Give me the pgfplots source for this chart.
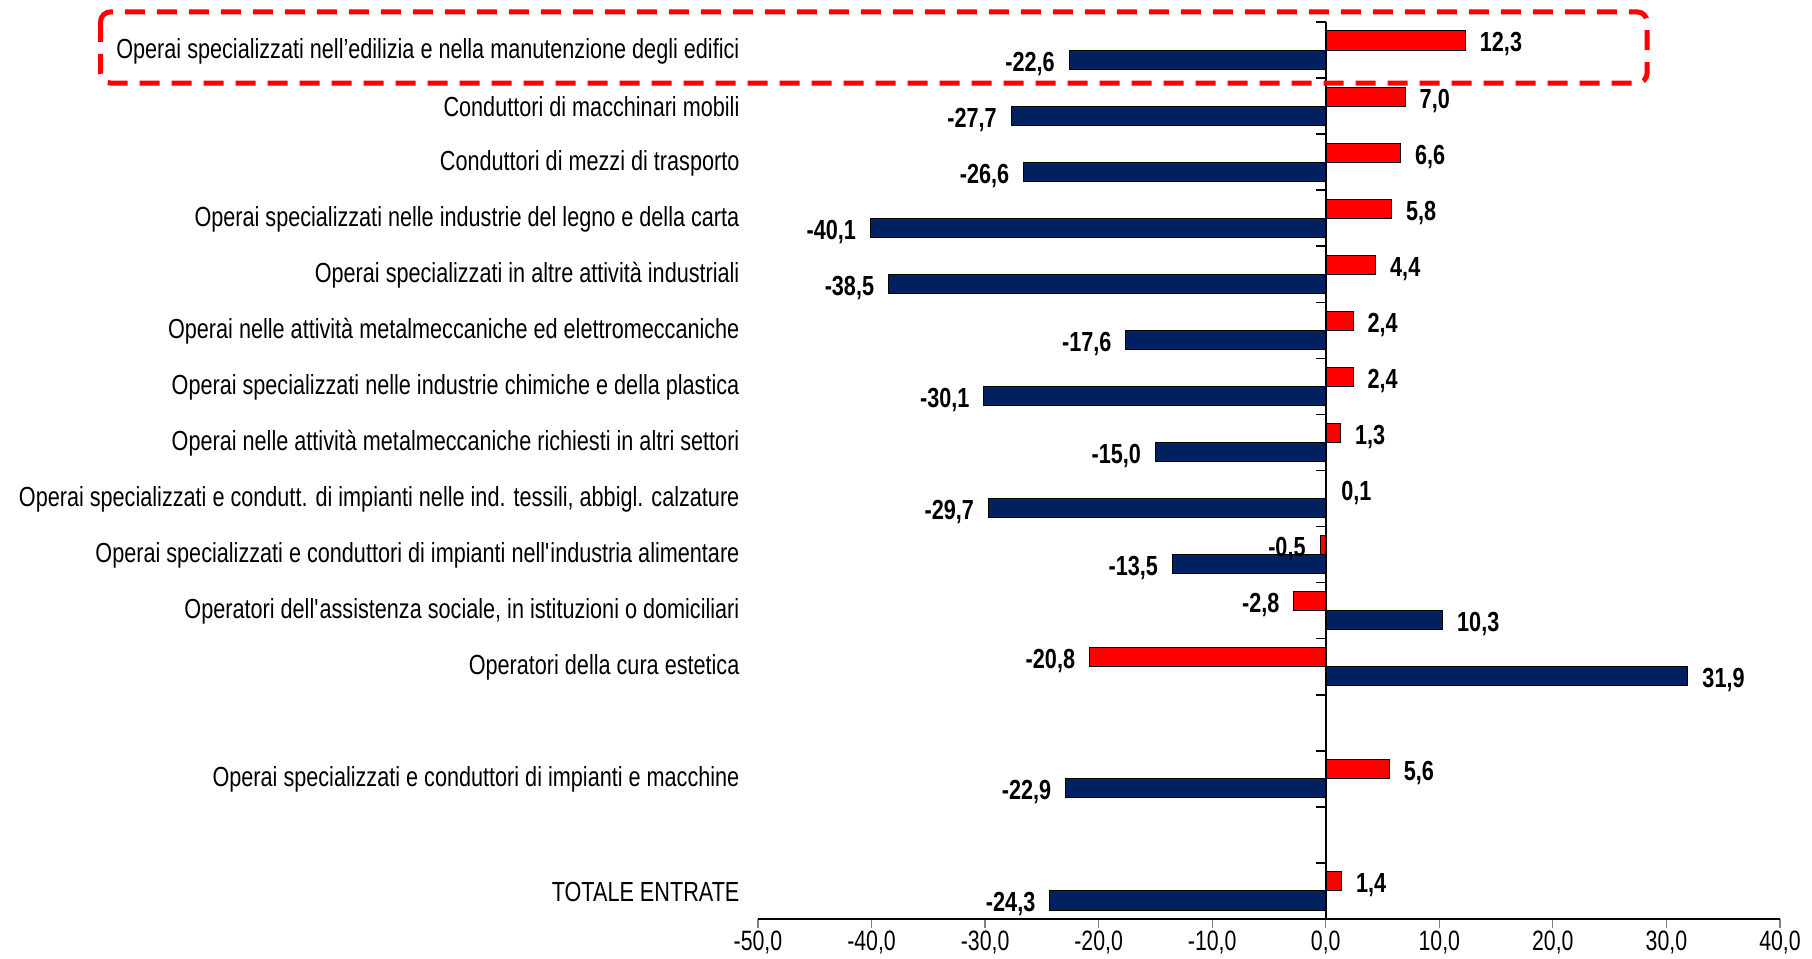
\documentclass[border=0pt]{standalone}
\usepackage{pgfplots}
\pgfplotsset{compat=1.18}
\usepackage{fontspec}
\setmainfont{Liberation Sans}[FakeStretch=0.784]
\newfontfamily\tickfont{Liberation Sans}[FakeStretch=0.76]
\definecolor{barred}{HTML}{FF0000}
\definecolor{barnavy}{HTML}{002060}
\newcommand\lab{\fontsize{13.8}{16}\selectfont}
\newcommand\val{\fontsize{13.8}{16}\selectfont\bfseries}
\newcommand\tck{\tickfont\fontsize{14}{16}\selectfont}

\begin{document}
\begin{tikzpicture}
\useasboundingbox (-379pt,-20pt) rectangle (527pt,459.5pt);
\begin{axis}[
    at={(0,0)}, anchor=south west,
    scale only axis, width=511pt, height=448.5pt,
    xbar, bar width=0.34,
    xmin=-50, xmax=40, ymin=0.5, ymax=16.5,
    clip=false,
    axis x line=bottom, axis y line=left,
    x axis line style={-, line width=0.6pt},
    y axis line style={draw=none},
    xtick={-50,-40,...,40},
    xtick style={line width=0.6pt},
    tick align=outside, major tick length=4.5pt,
    ytick={1,3,5,6,...,16},
    ytick style={draw=none},
    yticklabels={
        TOTALE ENTRATE,
        Operai specializzati e conduttori di impianti e macchine,
        Operatori della cura estetica,
        {Operatori dell\textquotesingle assistenza sociale, in istituzioni o domiciliari},
        Operai specializzati e conduttori di impianti nell\textquotesingle industria alimentare,
        {Operai specializzati e condutt. di impianti nelle ind. tessili, abbigl. calzature},
        Operai nelle attività metalmeccaniche richiesti in altri settori,
        Operai specializzati nelle industrie chimiche e della plastica,
        Operai nelle attività metalmeccaniche ed elettromeccaniche,
        Operai specializzati in altre attività industriali,
        Operai specializzati nelle industrie del legno e della carta,
        Conduttori di mezzi di trasporto,
        Conduttori di macchinari mobili,
        Operai specializzati nell’edilizia e nella manutenzione degli edifici},
    yticklabel style={font=\lab, anchor=east, inner sep=0pt, xshift=-4.6pt, yshift=-0.5pt},
    xticklabel style={font=\tck, anchor=north, inner sep=0pt, yshift=-1.5pt},
    /pgf/number format/fixed,
    /pgf/number format/fixed zerofill,
    /pgf/number format/precision=1,
    /pgf/number format/use comma,
    /pgf/number format/assume math mode=true,
    point meta=x,
    nodes near coords,
    nodes near coords align=horizontal,
    every node near coord/.append style={font=\val, inner sep=7pt, text=black, yshift=-2pt},
]
% red: upper bar of each row
\addplot[draw=black, line width=0.5pt, fill=barred, bar shift=0.17] coordinates {
(12.3,16) (7.0,15) (6.6,14) (5.8,13) (4.4,12) (2.4,11) (2.4,10) (1.3,9)
(0.1,8) (-0.5,7) (-2.8,6) (-20.8,5) (5.6,3) (1.4,1)
};
% navy: lower bar of each row
\addplot[draw=black, line width=0.5pt, fill=barnavy, bar shift=-0.17] coordinates {
(-22.6,16) (-27.7,15) (-26.6,14) (-40.1,13) (-38.5,12) (-17.6,11) (-30.1,10) (-15.0,9)
(-29.7,8) (-13.5,7) (10.3,6) (31.9,5) (-22.9,3) (-24.3,1)
};
% vertical axis at zero with ticks between the rows
\draw[line width=0.9pt] (axis cs:0,0.5) -- (axis cs:0,16.5);
\pgfplotsinvokeforeach{0,...,16}{\draw[line width=0.8pt] (axis cs:0,#1.5) -- ++(-5pt,0pt);}
% highlight of the first row
\draw[barred, line width=2.5pt, dash pattern=on 10pt off 6pt, rounded corners=5pt]
    (axis cs:-107.9,16.68) rectangle (axis cs:28.3,15.41);
\end{axis}
\end{tikzpicture}
\end{document}
